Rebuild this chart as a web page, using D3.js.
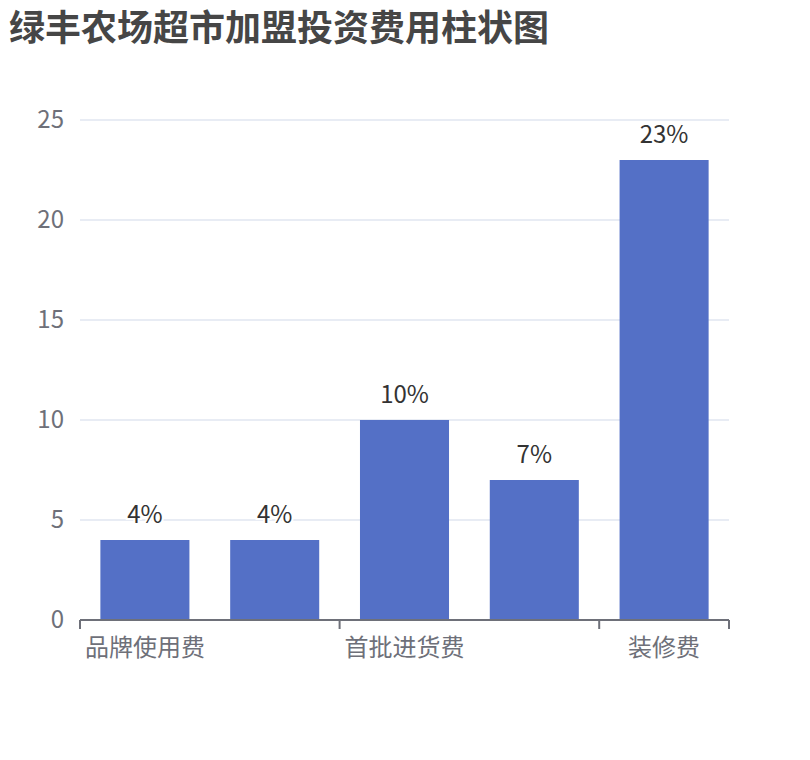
<!DOCTYPE html>
<html lang="zh">
<head>
<meta charset="UTF-8">
<title>chart</title>
<style>
  body { margin: 0; background: #fff; }
  text { font-family: "Noto Sans CJK SC", "Noto Sans", sans-serif; }
</style>
</head>
<body>
<script src="https://d3js.org/d3.v7.min.js"></script>
<script>
// 数据
const categories = ['品牌使用费', '加盟费', '首批进货费', '保证金', '装修费'];
const values = [4, 4, 10, 7, 23];
const yTicks = [0, 5, 10, 15, 20, 25];
// 只显示间隔的类目标签
const shownLabels = ['品牌使用费', '首批进货费', '装修费'];

const width = 810, height = 760;
const margin = { left: 80, right: 81, top: 120, bottom: 140 };

const svg = d3.select('body').append('svg')
  .attr('width', width)
  .attr('height', height);

svg.append('text')
  .attr('x', 9)
  .attr('y', 41)
  .attr('font-size', 36)
  .attr('font-weight', 'bold')
  .attr('fill', '#464646')
  .text('绿丰农场超市加盟投资费用柱状图');

const x = d3.scaleBand()
  .domain(categories)
  .range([margin.left, width - margin.right]);

const y = d3.scaleLinear()
  .domain([0, 25])
  .range([height - margin.bottom, margin.top]);

// 网格线
svg.append('g')
  .selectAll('line')
  .data(yTicks.filter(d => d > 0))
  .join('line')
  .attr('x1', margin.left)
  .attr('x2', width - margin.right)
  .attr('y1', d => y(d))
  .attr('y2', d => y(d))
  .attr('stroke', '#e0e6f1')
  .attr('stroke-width', 1.5);

// y 轴标签
svg.append('g')
  .selectAll('text')
  .data(yTicks)
  .join('text')
  .attr('x', 64)
  .attr('y', d => y(d))
  .attr('dy', '0.35em')
  .attr('text-anchor', 'end')
  .attr('font-size', 24)
  .attr('fill', '#6e7079')
  .text(d => d);

// 柱子
const barW = x.bandwidth() * 0.686;
svg.append('g')
  .selectAll('rect')
  .data(values)
  .join('rect')
  .attr('x', (d, i) => x(categories[i]) + (x.bandwidth() - barW) / 2)
  .attr('y', d => y(d))
  .attr('width', barW)
  .attr('height', d => y(0) - y(d))
  .attr('fill', '#5470c6');

// 柱顶标签
svg.append('g')
  .selectAll('text')
  .data(values)
  .join('text')
  .attr('x', (d, i) => x(categories[i]) + x.bandwidth() / 2)
  .attr('y', d => y(d) - 17)
  .attr('text-anchor', 'middle')
  .attr('font-size', 24)
  .attr('fill', '#333')
  .attr('stroke', '#fff')
  .attr('stroke-width', 4)
  .attr('paint-order', 'stroke')
  .text(d => d + '%');

// x 轴
const axisY = y(0);
svg.append('line')
  .attr('x1', margin.left)
  .attr('x2', width - margin.right)
  .attr('y1', axisY)
  .attr('y2', axisY)
  .attr('stroke', '#6e7079')
  .attr('stroke-width', 2);

const tickPos = categories
  .map((c, i) => i)
  .filter(i => i % 2 === 0)
  .map(i => x(categories[i]))
  .concat([width - margin.right]);

svg.append('g')
  .selectAll('line')
  .data(tickPos)
  .join('line')
  .attr('x1', d => d)
  .attr('x2', d => d)
  .attr('y1', axisY)
  .attr('y2', axisY + 9)
  .attr('stroke', '#6e7079')
  .attr('stroke-width', 2);

svg.append('g')
  .selectAll('text')
  .data(shownLabels)
  .join('text')
  .attr('x', d => x(d) + x.bandwidth() / 2)
  .attr('y', axisY + 28)
  .attr('dy', '0.35em')
  .attr('text-anchor', 'middle')
  .attr('font-size', 24)
  .attr('fill', '#6e7079')
  .text(d => d);
</script>
</body>
</html>
